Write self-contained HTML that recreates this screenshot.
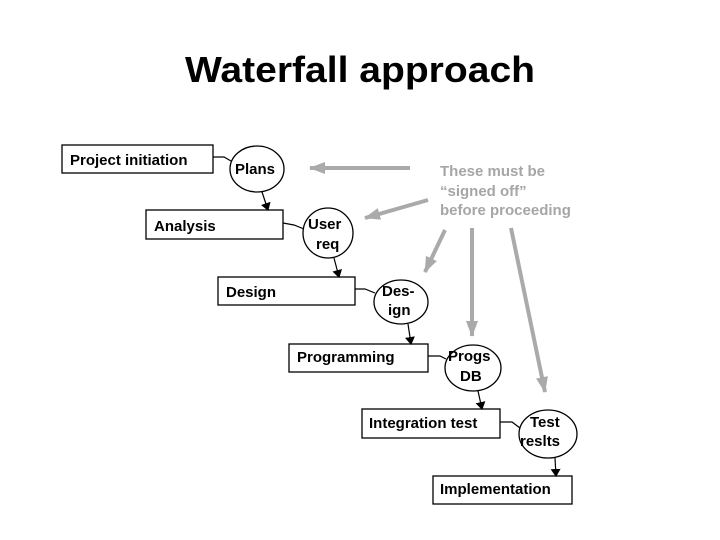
<!DOCTYPE html>
<html><head><meta charset="utf-8"><style>
html,body{margin:0;padding:0;background:#fff;}
svg{display:block;}
.t{font-family:"Liberation Sans",Arial,sans-serif;font-weight:bold;font-size:15px;fill:#000;}
.g{font-family:"Liberation Sans",Arial,sans-serif;font-weight:bold;font-size:15px;fill:#a6a6a6;}
</style></head><body>
<svg width="720" height="540" viewBox="0 0 720 540" xmlns="http://www.w3.org/2000/svg">
<defs>
<marker id="a" markerWidth="8" markerHeight="10" refX="7" refY="5" orient="auto" markerUnits="userSpaceOnUse"><path d="M0,0 L8,5 L0,10 z" fill="#000"/></marker>
<marker id="ga" markerWidth="16" markerHeight="12" refX="15" refY="6" orient="auto" markerUnits="userSpaceOnUse"><path d="M0,0 L16,6 L0,12 z" fill="#aaa"/></marker>
</defs>
<text x="360" y="82" text-anchor="middle" font-family="Liberation Sans,Arial,sans-serif" font-weight="bold" font-size="36" textLength="350" lengthAdjust="spacingAndGlyphs">Waterfall approach</text>
<g fill="#fff" stroke="#000" stroke-width="1.3">
<rect x="62" y="145" width="151" height="28"/>
<rect x="146" y="210" width="137" height="29"/>
<rect x="218" y="277" width="137" height="28"/>
<rect x="289" y="344" width="139" height="28"/>
<rect x="362" y="409" width="138" height="29"/>
<rect x="433" y="476" width="139" height="28"/>
<ellipse cx="257" cy="169" rx="27" ry="23"/>
<ellipse cx="328" cy="233" rx="25" ry="25"/>
<ellipse cx="401" cy="302" rx="27" ry="22"/>
<ellipse cx="473" cy="368" rx="28" ry="23"/>
<ellipse cx="548" cy="434" rx="29" ry="24"/>
</g>
<g stroke="#000" stroke-width="1.2" fill="none">
<path d="M213,157 L224,157 L231,161"/>
<path d="M283,223 L294,225 L304,229"/>
<path d="M355,289 L365,289 L375,293"/>
<path d="M428,356 L440,356 L446,359"/>
<path d="M500,422 L512,422 L520,428"/>
<path d="M262,192 L268,210" marker-end="url(#a)"/>
<path d="M334,258 L339,277" marker-end="url(#a)"/>
<path d="M408,324 L411,344" marker-end="url(#a)"/>
<path d="M478,391 L482,409" marker-end="url(#a)"/>
<path d="M555,458 L556,476" marker-end="url(#a)"/>
</g>
<g stroke="#aaa" stroke-width="4" fill="none">
<path d="M410,168 L310,168" marker-end="url(#ga)"/>
<path d="M428,200 L365,218" marker-end="url(#ga)"/>
<path d="M445,230 L425,272" marker-end="url(#ga)"/>
<path d="M472,228 L472,336" marker-end="url(#ga)"/>
<path d="M511,228 L545,392" marker-end="url(#ga)"/>
</g>
<text class="t" x="70" y="165">Project initiation</text>
<text class="t" x="235" y="174">Plans</text>
<text class="t" x="154" y="231">Analysis</text>
<text class="t" x="308" y="229">User</text>
<text class="t" x="316" y="249">req</text>
<text class="t" x="226" y="297">Design</text>
<text class="t" x="382" y="296">Des-</text>
<text class="t" x="388" y="315">ign</text>
<text class="t" x="297" y="362">Programming</text>
<text class="t" x="448" y="361">Progs</text>
<text class="t" x="460" y="381">DB</text>
<text class="t" x="369" y="428">Integration test</text>
<text class="t" x="530" y="427">Test</text>
<text class="t" x="520" y="446">reslts</text>
<text class="t" x="440" y="494">Implementation</text>
<text class="g" x="440" y="176">These must be</text>
<text class="g" x="440" y="196">“signed off”</text>
<text class="g" x="440" y="215">before proceeding</text>
</svg>
</body></html>
